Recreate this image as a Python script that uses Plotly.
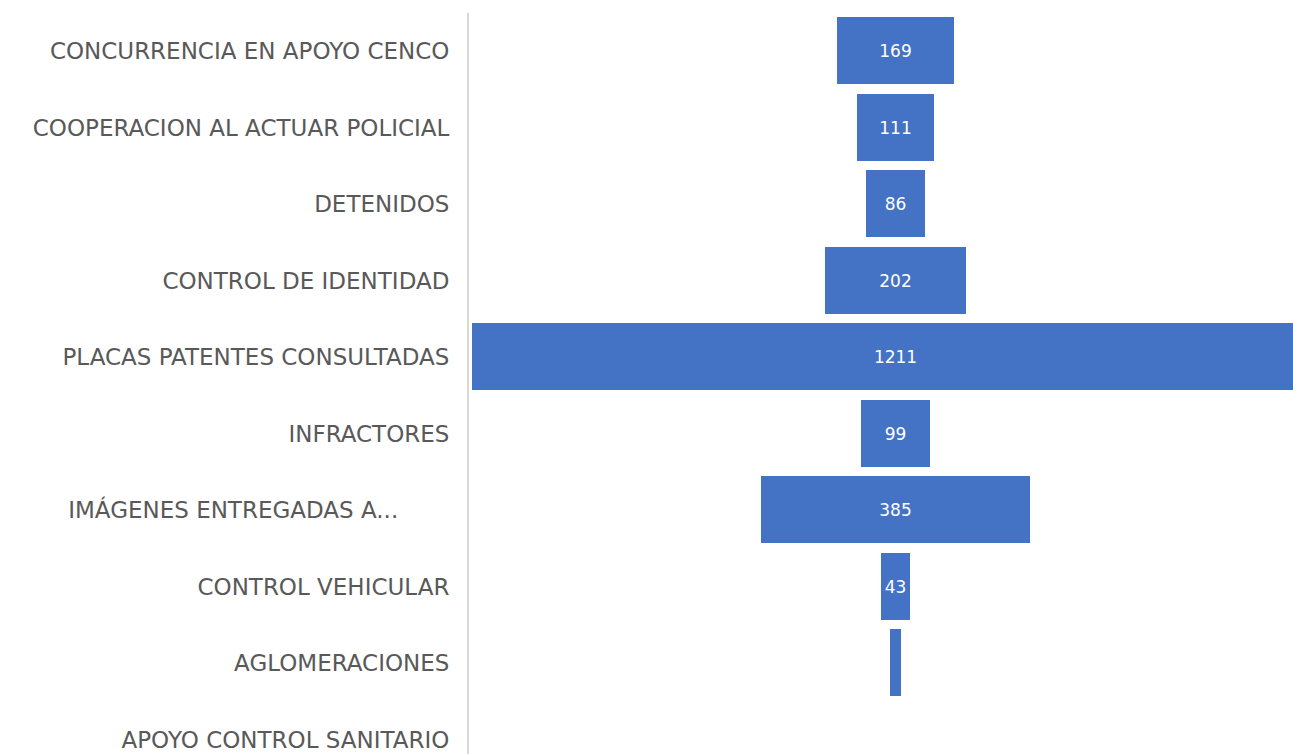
import plotly.graph_objects as go

categories = [
    "CONCURRENCIA EN APOYO CENCO",
    "COOPERACION AL ACTUAR POLICIAL",
    "DETENIDOS",
    "CONTROL DE IDENTIDAD",
    "PLACAS PATENTES CONSULTADAS",
    "INFRACTORES",
    "IMÁGENES ENTREGADAS A..." + "\u00a0" * 7,
    "CONTROL VEHICULAR",
    "AGLOMERACIONES",
    "APOYO CONTROL SANITARIO",
]
values = [169, 111, 86, 202, 1211, 99, 385, 43, 17, 0]

positions = list(range(len(categories)))
bases = [-v / 2 for v in values]
labels = [str(v) if v >= 40 else "" for v in values]

fig = go.Figure(
    go.Bar(
        y=positions,
        x=values,
        base=bases,
        orientation="h",
        width=0.89,
        marker=dict(color="#4472C4", line=dict(color="#FFFFFF", width=1)),
        text=labels,
        textposition="inside",
        insidetextanchor="middle",
        textangle=0,
        textfont=dict(color="#FFFFFF", size=17, family="DejaVu Sans"),
        cliponaxis=True,
        hoverinfo="skip",
    )
)

fig.update_layout(
    width=1293,
    height=754,
    margin=dict(l=469, r=0, t=13, b=0),
    plot_bgcolor="#FFFFFF",
    paper_bgcolor="#FFFFFF",
    showlegend=False,
    bargap=0,
    font=dict(family="DejaVu Sans", color="#595959", size=23),
)
fig.update_xaxes(range=[-610, 567], visible=False, showgrid=False, zeroline=False)
fig.update_yaxes(
    range=[9.19, -0.5],
    tickmode="array",
    tickvals=positions,
    ticktext=categories,
    showline=True,
    linecolor="#D9D9D9",
    linewidth=2,
    showgrid=False,
    zeroline=False,
    ticks="",
    ticklabelstandoff=13,
    tickfont=dict(family="DejaVu Sans", color="#595959", size=23),
)

fig.write_html(
    "out.html",
    config={"displayModeBar": False},
    post_script="document.body.style.margin='0';document.body.style.overflow='hidden';",
)
